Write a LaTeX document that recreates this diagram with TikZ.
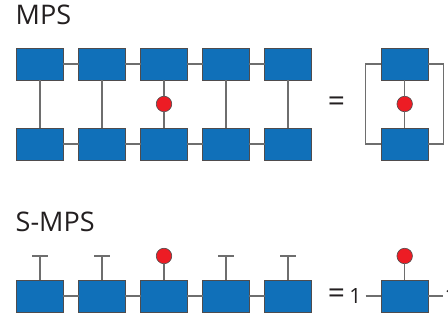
\documentclass[tikz,border=0pt]{standalone}
\usepackage{fontspec}
\setmainfont{Open Sans}
\definecolor{boxblue}{RGB}{16,112,185}
\definecolor{dotred}{RGB}{237,28,36}
\definecolor{wire}{RGB}{110,110,110}
\definecolor{ink}{RGB}{35,31,32}
\begin{document}
\begin{tikzpicture}[x=1pt,y=-1pt,
  tensor/.style={draw=ink!80,line width=0.7pt,fill=boxblue,minimum width=46.7pt,minimum height=32pt,inner sep=0pt,outer sep=0pt},
  dot/.style={circle,draw=ink!80,line width=0.6pt,fill=dotred,minimum size=15.5pt,inner sep=0pt,outer sep=0pt},
  link/.style={draw=wire,line width=1.2pt},
  title/.style={font=\fontsize{27}{30}\selectfont,text=ink,inner sep=0pt,anchor=west},
  lbl/.style={font=\fontsize{21}{24}\selectfont,text=ink,inner sep=0pt,anchor=base}]
\useasboundingbox (0,0) rectangle (448,320);
\node[title] (t1) at (15.5,15) {MPS};
\node[title] (t2) at (15.5,221.5) {S-MPS};
% MPS rows
\foreach \i/\x in {1/40,2/102,3/164,4/226,5/288}{
  \node[tensor] (a\i) at (\x,64) {};
  \node[tensor] (b\i) at (\x,144) {};
}
\foreach \i/\j in {1/2,2/3,3/4,4/5}{
  \draw[link] (a\i) -- (a\j);
  \draw[link] (b\i) -- (b\j);
}
\node[dot] (d3) at (164,104) {};
\draw[link] (a1) -- (b1);
\draw[link] (a2) -- (b2);
\draw[link] (a3) -- (d3) -- (b3);
\draw[link] (a4) -- (b4);
\draw[link] (a5) -- (b5);
% right side MPS
\node[font=\fontsize{30}{30}\selectfont,text=ink,inner sep=0pt] (eq1) at (336.5,104) {=};
\node[tensor] (ra) at (404.7,64) {};
\node[tensor] (rb) at (404.7,144) {};
\node[dot] (rd) at (404.7,104) {};
\draw[link] (ra) -- (rd) -- (rb);
\draw[link] (ra.west) -- (365.7,64) -- (365.7,144) -- (rb.west);
\draw[link] (ra.east) -- (443.3,64) -- (443.3,144) -- (rb.east);
% S-MPS row
\foreach \i/\x in {1/40,2/102,3/164,4/226,5/288}{
  \node[tensor] (s\i) at (\x,296) {};
}
\foreach \i/\j in {1/2,2/3,3/4,4/5}{
  \draw[link] (s\i) -- (s\j);
}
\foreach \i/\x in {1/40,2/102,4/226,5/288}{
  \coordinate (c\i) at (\x,256);
  \draw[link] (s\i.north) -- (c\i);
  \draw[link] ([xshift=-8pt]c\i) -- ([xshift=8pt]c\i);
}
\node[dot] (sd3) at (164,256) {};
\draw[link] (s3) -- (sd3);
% right side S-MPS
\node[font=\fontsize{30}{30}\selectfont,text=ink,inner sep=0pt] (eq2) at (336.5,296) {=};
\node[lbl] (one1) at (355.5,304) {1};
\node[tensor] (rs) at (404.7,296) {};
\node[dot] (rsd) at (404.7,256) {};
\draw[link] (rs) -- (rsd);
\coordinate (lw) at (365.7,296);
\coordinate (le) at (443,296);
\draw[link] (lw) -- (rs.west);
\draw[link] (rs.east) -- (le);
\node[lbl,anchor=base west] (one2) at (444.5,304) {1};
\end{tikzpicture}
\end{document}
